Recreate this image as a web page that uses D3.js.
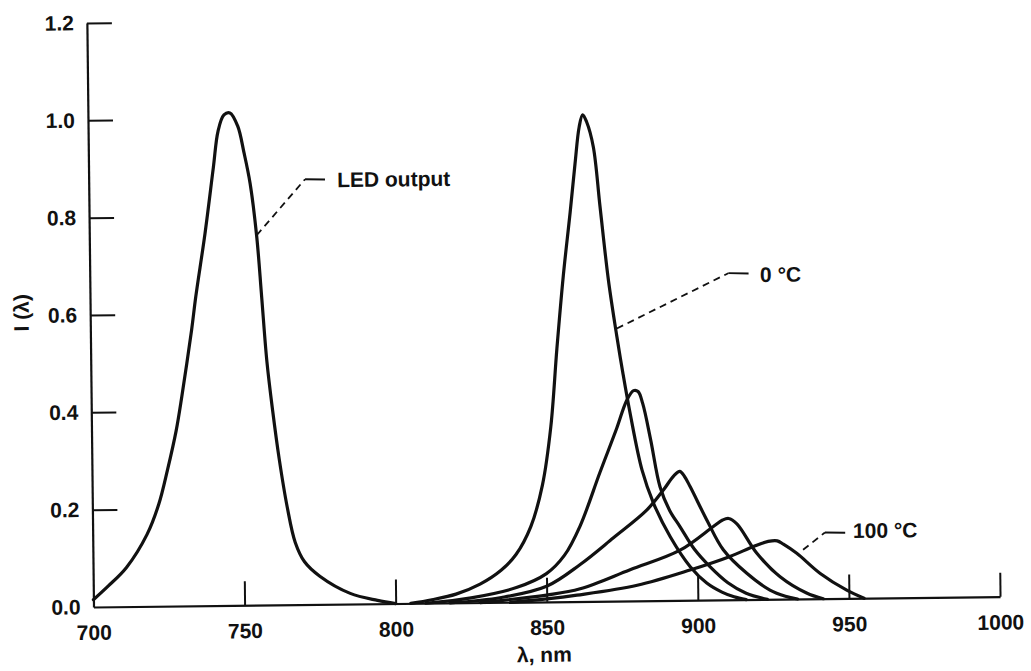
<!DOCTYPE html>
<html>
<head>
<meta charset="utf-8">
<script src="https://cdn.jsdelivr.net/npm/d3@7"></script>
<style>
  html, body { margin: 0; padding: 0; background: #fff; }
  svg { display: block; }
  text { font-family: "Liberation Sans", Arial, Helvetica, sans-serif; font-weight: bold; fill: #111; }
</style>
</head>
<body>
<svg id="chart" width="1031" height="671"></svg>
<script>
// ---------------- data (wavelength nm, relative intensity) ----------------
const xTicks = [700, 750, 800, 850, 900, 950, 1000];
const yTicks = [0.0, 0.2, 0.4, 0.6, 0.8, 1.0, 1.2];
const xTitle = "λ, nm";
const yTitle = "I (λ)";

const ledOutput = [[700,0.015],[705,0.043],[711,0.08],[718,0.148],[722,0.21],[725,0.28],[728,0.36],[730,0.43],
  [733.5,0.567],[735,0.635],[738.3,0.765],[741.3,0.9],[743,0.975],[745,1.008],[747,1.012],[749.5,0.985],
  [751.5,0.93],[753.4,0.867],[755.4,0.757],[756.8,0.634],[758.3,0.5],[760,0.4],[762,0.3],[764.5,0.2],
  [767,0.128],[770,0.088],[775,0.058],[785,0.022],[794,0.007],[800,0]];

const temp0C = [[805,0],[812,0.007],[820,0.018],[828,0.038],[835,0.066],[840,0.098],[845,0.155],[849,0.24],
  [852,0.36],[854.3,0.52],[856.7,0.67],[859.2,0.8],[861,0.9],[862.5,0.975],[863.7,1.0],[865,0.985],
  [867.1,0.934],[869.1,0.811],[871.6,0.66],[874.2,0.543],[876,0.47],[878.3,0.385],[882,0.269],[885.7,0.2],
  [891.1,0.131],[897.6,0.069],[903,0.035],[908,0.016],[912,0.006],[916,0]];

const temp25C = [[810,0],[825,0.01],[840,0.03],[850,0.058],[856,0.095],[861.3,0.155],[868.1,0.265],[873.8,0.355],
  [877.2,0.412],[879.5,0.432],[881,0.43],[882.5,0.405],[885,0.33],[887.9,0.234],[891,0.185],[894.4,0.151],
  [899,0.105],[904.2,0.068],[910,0.035],[916,0.013],[923,0]];

const temp50C = [[818,0],[835,0.01],[850,0.032],[861.2,0.076],[872.3,0.13],[883.4,0.186],[889,0.227],
  [892.5,0.256],[894.5,0.265],[896,0.255],[897.9,0.233],[903.3,0.164],[908.6,0.103],[916.3,0.054],
  [923.9,0.019],[929,0.006],[933,0]];

const temp75C = [[828,0],[850,0.014],[861.1,0.026],[877.7,0.064],[894.3,0.103],[905.4,0.151],[908.5,0.164],
  [910.5,0.167],[913.2,0.156],[919.7,0.095],[927.3,0.046],[936,0.012],[941.5,0]];

const temp100C = [[838,0],[850,0.006],[860,0.013],[880,0.032],[897.5,0.062],[910.8,0.089],[918.6,0.109],
  [923.5,0.119],[926.5,0.12],[928.5,0.113],[932.9,0.094],[940.6,0.052],[949.3,0.017],[955,0]];

const seriesList = [ledOutput, temp0C, temp25C, temp50C, temp75C, temp100C];

// annotations: leader start on curve, elbow, end, and label anchor (all in data units)
const annoLabels = ["LED output", "0 °C", "100 °C"];
const annoLeaders = [
  [[755.4,0.760],[771.6,0.874],[778.2,0.873]],
  [[874.2,0.560],[911.3,0.671],[918.0,0.670]],
  [[935.0,0.101],[942.3,0.136],[949.0,0.135]]
];
const annoText = [[782.2,0.857],[921.8,0.652],[951.6,0.124]];

// ---------------- drawing ----------------
const svg = d3.select("#chart");
svg.append("rect").attr("width",1031).attr("height",671).attr("fill","#fff");

const originX = 93.5, originY = 607;
const x = d3.scaleLinear().domain([700,1000]).range([originX, 1000.1]);
const y = d3.scaleLinear().domain([0,1.2]).range([originY, 23]);

// the scanned figure is slightly rotated
const g = svg.append("g").attr("transform", `rotate(-0.65, ${originX}, ${originY})`);

const fmtY = d3.format(".1f");
const xAxis = d3.axisBottom(x).tickValues(xTicks).tickFormat(d3.format("d"))
  .tickSizeInner(-24).tickSizeOuter(0).tickPadding(18);
const yAxis = d3.axisLeft(y).tickValues(yTicks).tickFormat(fmtY)
  .tickSizeInner(-25).tickSizeOuter(0).tickPadding(13);

const gx = g.append("g").attr("transform", `translate(0,${originY})`).call(xAxis);
const gy = g.append("g").attr("transform", `translate(${originX},0)`).call(yAxis);
[gx, gy].forEach(a => {
  a.select(".domain").attr("stroke","#111").attr("stroke-width",2.2);
  a.selectAll(".tick line").attr("stroke","#111").attr("stroke-width",2);
  a.selectAll(".tick text").attr("font-size",21).attr("font-family",null).attr("fill","#111");
});
gx.selectAll(".tick").filter(d => d === 700).select("line").remove();
gy.selectAll(".tick").filter(d => d === 0).select("line").remove();

// axis titles
g.append("text").attr("x", x(849)).attr("y", originY + 60)
  .attr("text-anchor","middle").attr("font-size",21).text(xTitle);
g.append("text").attr("transform", `translate(32,312) rotate(-90)`)
  .attr("text-anchor","middle").attr("font-size",21).text(yTitle);

// curves
const line = d3.line().x(d => x(d[0])).y(d => y(d[1])).curve(d3.curveCatmullRom.alpha(0.5));
g.append("g").selectAll("path").data(seriesList).join("path")
  .attr("d", line).attr("fill","none").attr("stroke","#111")
  .attr("stroke-width",3.2).attr("stroke-linejoin","round").attr("stroke-linecap","round");

// annotation leaders
const straight = d3.line().x(d => x(d[0])).y(d => y(d[1]));
annoLeaders.forEach(pts => {
  g.append("path").attr("d", straight(pts.slice(0,2))).attr("fill","none")
    .attr("stroke","#111").attr("stroke-width",1.8).attr("stroke-dasharray","7,5");
  g.append("path").attr("d", straight(pts.slice(1))).attr("fill","none")
    .attr("stroke","#111").attr("stroke-width",1.8);
});
g.append("g").selectAll("text").data(annoText).join("text")
  .attr("x", d => x(d[0])).attr("y", d => y(d[1]))
  .attr("font-size",21).text((d,i) => annoLabels[i]);
</script>
</body>
</html>
